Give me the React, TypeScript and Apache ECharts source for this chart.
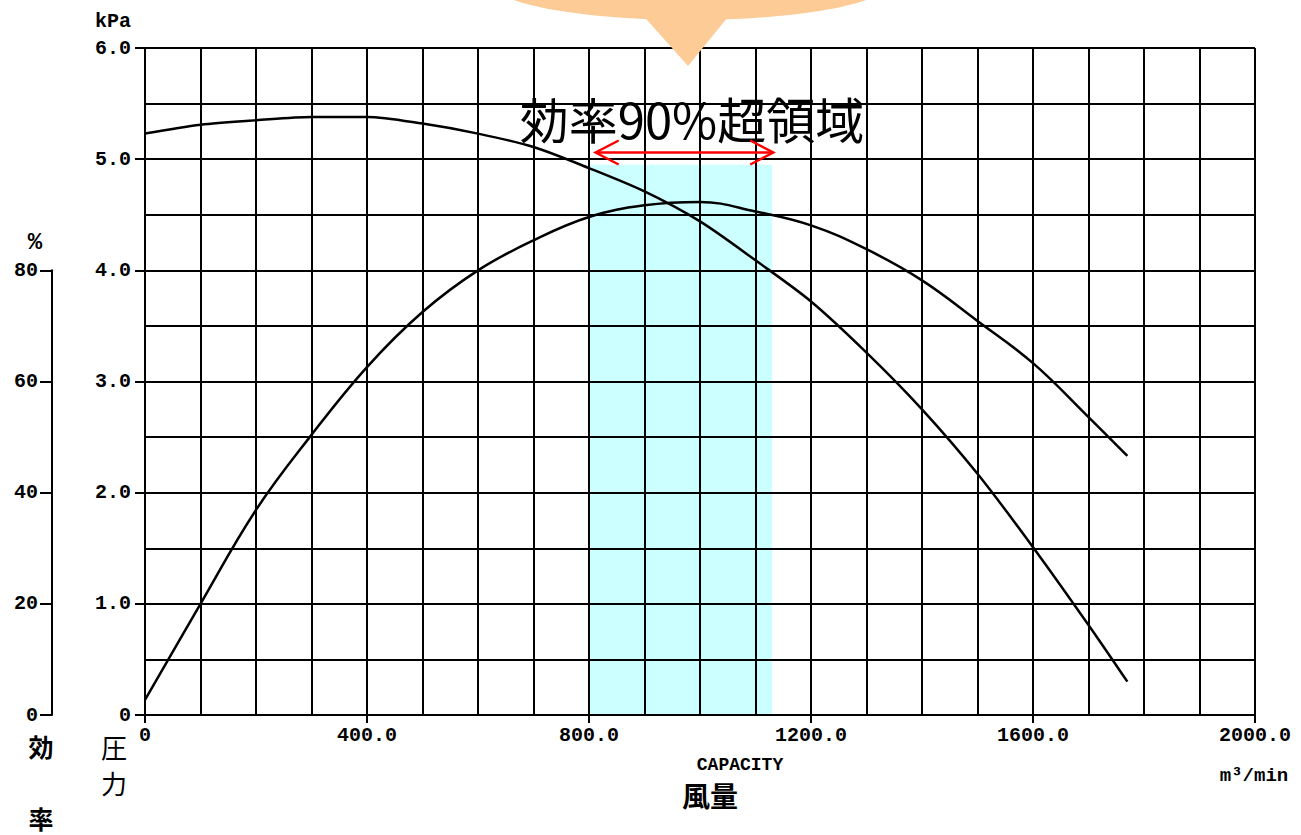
import { useEffect, useRef } from "react";
import * as echarts from "echarts";

// ---- data ----
const flow = [0, 100, 200, 300, 400, 500, 600, 700, 800, 900, 1000, 1100, 1200, 1300, 1400, 1500, 1600, 1700, 1770];
const pressure = [5.23, 5.31, 5.35, 5.38, 5.38, 5.32, 5.23, 5.11, 4.92, 4.71, 4.44, 4.09, 3.72, 3.26, 2.75, 2.17, 1.51, 0.81, 0.3];
const efficiency = [2.7, 20, 36.9, 50.4, 62.6, 72.5, 80, 85.4, 89.6, 91.7, 92.3, 90.6, 88.1, 83.8, 78.2, 70.9, 63.3, 53.6, 46.6];

const flowTickStep = 400;
const pressureTickStep = 1;
const efficiencyTickStep = 20;

const highRegionFlow = [800, 1130];
const highRegionTop = 4.95;
const highRegionBottom = -0.07;
const arrowFlow = [812, 1132];
const arrowLevel = 5.06;

const title = "効率90%超領域";
const xName = "風量";
const xNameEn = "CAPACITY";
const xUnit = "m³/min";
const pUnit = "kPa";
const eUnit = "%";

const MONO = "'Liberation Mono', 'DejaVu Sans Mono', monospace";
const CJK = "'Noto Sans CJK JP', 'Noto Sans', sans-serif";

export default function App() {
  const ref = useRef<HTMLDivElement>(null);

  useEffect(() => {
    if (!ref.current) return;
    const chart = echarts.init(ref.current, null, { renderer: "svg" });
    const black = "#000";
    const axisLabel = {
      fontFamily: MONO,
      fontWeight: "bold" as const,
      fontSize: 20,
      lineHeight: 20,
      color: black,
    };

    chart.setOption({
      animation: false,
      backgroundColor: "#fff",
      grid: [
        { left: 145, top: 48, width: 1110, height: 667 },
        { left: 52, top: 48 + 667 / 3, width: 1, height: (667 * 2) / 3 },
      ],
      xAxis: [
        {
          gridIndex: 0,
          type: "value",
          position: "bottom",
          min: 0,
          max: 2000,
          interval: 100,
          z: 3,
          axisLine: { show: true, onZero: false, lineStyle: { color: black, width: 2 } },
          axisTick: { show: false },
          axisLabel: { show: false },
          splitLine: { show: true, lineStyle: { color: black, width: 2 } },
        },
        {
          gridIndex: 0,
          type: "value",
          position: "bottom",
          min: 0,
          max: 2000,
          interval: flowTickStep,
          z: 3,
          axisLine: { show: false, onZero: false },
          axisTick: { show: true, length: 8, lineStyle: { color: black, width: 2 } },
          axisLabel: {
            ...axisLabel,
            margin: 10,
            showMinLabel: true,
            showMaxLabel: true,
            formatter: (v: number) => (v === 0 ? "0" : v.toFixed(1)),
          },
          splitLine: { show: false },
        },
        { gridIndex: 1, type: "value", min: 0, max: 1, show: false },
      ],
      yAxis: [
        {
          gridIndex: 0,
          type: "value",
          position: "left",
          min: 0,
          max: 6,
          interval: 0.5,
          z: 3,
          axisLine: { show: true, onZero: false, lineStyle: { color: black, width: 2 } },
          axisTick: { show: false },
          axisLabel: { show: false },
          splitLine: { show: true, lineStyle: { color: black, width: 2 } },
        },
        {
          gridIndex: 0,
          type: "value",
          position: "left",
          min: 0,
          max: 6,
          interval: pressureTickStep,
          z: 3,
          axisLine: { show: false, onZero: false },
          axisTick: { show: true, length: 10, lineStyle: { color: black, width: 2 } },
          axisLabel: {
            ...axisLabel,
            margin: 14,
            formatter: (v: number) => (v === 0 ? "0" : v.toFixed(1)),
          },
          splitLine: { show: false },
        },
        { gridIndex: 0, type: "value", position: "left", min: 0, max: 120, show: false },
        {
          gridIndex: 1,
          type: "value",
          position: "left",
          min: 0,
          max: 80,
          interval: efficiencyTickStep,
          axisLine: { show: true, onZero: false, lineStyle: { color: black, width: 2 } },
          axisTick: { show: true, length: 12, lineStyle: { color: black, width: 2 } },
          axisLabel: { ...axisLabel, margin: 14 },
          splitLine: { show: false },
        },
      ],
      series: [
        {
          type: "line",
          xAxisIndex: 0,
          yAxisIndex: 0,
          data: [],
          clip: false,
          silent: true,
          markArea: {
            silent: true,
            itemStyle: { color: "#CCFFFF" },
            data: [[{ coord: [highRegionFlow[0], highRegionTop] }, { coord: [highRegionFlow[1], highRegionBottom] }]],
          },
        },
        {
          name: "pressure",
          type: "line",
          xAxisIndex: 0,
          yAxisIndex: 0,
          smooth: 0.3,
          symbol: "none",
          lineStyle: { color: black, width: 2.5 },
          data: flow.map((f, i) => [f, pressure[i]]),
        },
        {
          name: "efficiency",
          type: "line",
          xAxisIndex: 0,
          yAxisIndex: 2,
          smooth: 0.4,
          symbol: "none",
          lineStyle: { color: black, width: 2.5 },
          data: flow.map((f, i) => [f, efficiency[i]]),
        },
      ],
    });

    const a1 = chart.convertToPixel({ xAxisIndex: 0, yAxisIndex: 0 }, [arrowFlow[0], arrowLevel]) as number[];
    const a2 = chart.convertToPixel({ xAxisIndex: 0, yAxisIndex: 0 }, [arrowFlow[1], arrowLevel]) as number[];
    const red = "#FF0000";
    const hx = 23;
    const hy = 12;

    const txt = (text: string, x: number, y: number, weight: string, size: number, family: string) => ({
      type: "text",
      z: 100,
      x,
      y,
      style: {
        text,
        fontFamily: family,
        fontSize: size,
        fontWeight: weight,
        lineHeight: size,
        fill: black,
        align: "center",
        verticalAlign: "middle",
      },
    });

    chart.setOption({
      graphic: [
        { type: "ellipse", z: 100, shape: { cx: 690, cy: -18, rx: 200, ry: 38 }, style: { fill: "#FCCB96" } },
        { type: "polygon", z: 100, shape: { points: [[640, 12], [732, 12], [688, 66]] }, style: { fill: "#FCCB96" } },
        txt(title, 692, 117, "normal", 49, CJK),
        { type: "polyline", z: 101, shape: { points: [a1, a2] }, style: { stroke: red, lineWidth: 2.5, fill: "none" } },
        {
          type: "polyline",
          z: 101,
          shape: { points: [[a1[0] + hx, a1[1] - hy], a1, [a1[0] + hx, a1[1] + hy]] },
          style: { stroke: red, lineWidth: 2.5, fill: "none" },
        },
        {
          type: "polyline",
          z: 101,
          shape: { points: [[a2[0] - hx, a2[1] - hy], a2, [a2[0] - hx, a2[1] + hy]] },
          style: { stroke: red, lineWidth: 2.5, fill: "none" },
        },
        txt(pUnit, 113, 21, "bold", 20, MONO),
        txt(eUnit, 35, 242, "bold", 24, MONO),
        txt("効", 41, 746, "bold", 25, CJK),
        txt("率", 41, 818, "bold", 25, CJK),
        txt("圧", 114, 746, "normal", 26, CJK),
        txt("力", 114, 782, "normal", 26, CJK),
        txt(xNameEn, 740, 765, "bold", 18, MONO),
        txt(xName, 710, 795, "bold", 28, CJK),
        txt(xUnit, 1254, 776, "bold", 19, MONO),
      ],
    });

    return () => chart.dispose();
  }, []);

  return <div ref={ref} style={{ position: "absolute", left: 0, top: 0, width: 1301, height: 835 }} />;
}
